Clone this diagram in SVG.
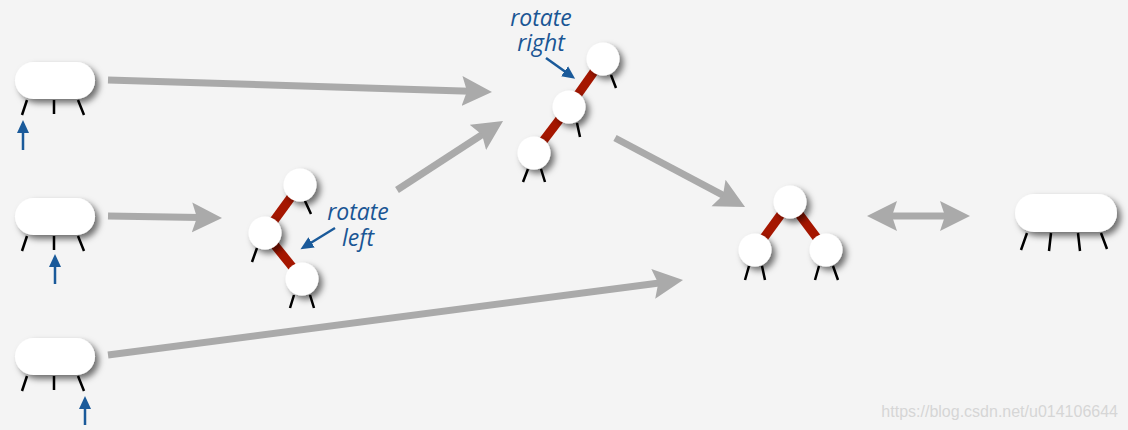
<svg xmlns="http://www.w3.org/2000/svg" width="1128" height="430" viewBox="0 0 1128 430">
<defs>
<filter id="sh" x="-50%" y="-50%" width="200%" height="200%">
<feDropShadow dx="4" dy="4" stdDeviation="3" flood-color="#000" flood-opacity="0.55"/>
</filter>
<marker id="gh" markerUnits="userSpaceOnUse" viewBox="0 -16 31 32" markerWidth="31" markerHeight="32" refX="8" refY="0" orient="auto-start-reverse">
<path d="M0,-15 L30,0 L0,15 L5,0 Z" fill="#aaaaaa"/>
</marker>
<marker id="bh" markerUnits="userSpaceOnUse" viewBox="0 -7 14 14" markerWidth="14" markerHeight="14" refX="3" refY="0" orient="auto">
<path d="M0,-6 L13,0 L0,6 Z" fill="#1a5a9a"/>
</marker>
<style>
.pill{fill:#fff;filter:url(#sh)}
.node{fill:#fff;filter:url(#sh)}
.leg{stroke:#000;stroke-width:2.5;fill:none}
.red{stroke:#a51600;stroke-width:9;stroke-linecap:butt}
.ga{stroke:#aaaaaa;stroke-width:7;fill:none;marker-end:url(#gh)}
.ba{stroke:#1a5a9a;stroke-width:2.5;fill:none;marker-end:url(#bh)}
.lbl{font-family:"Open Sans","Noto Sans",sans-serif;font-style:italic;font-size:23px;fill:#1a5694;text-anchor:middle}
.wm{font-family:"Liberation Sans",Arial,sans-serif;font-size:16px;fill:#d6d6d6;text-anchor:end}
</style>
</defs>
<rect width="1128" height="430" fill="#f4f4f4"/>

<g id="connectors">
<line class="ga" x1="108" y1="80" x2="470" y2="91.3"/>
<line class="ga" x1="108" y1="216" x2="200" y2="217.6"/>
<line class="ga" x1="108" y1="355" x2="661.2" y2="282.8"/>
<line class="ga" x1="397" y1="190" x2="484.6" y2="133"/>
<line class="ga" x1="615" y1="138" x2="725.6" y2="196.7"/>
<line class="ga" x1="889" y1="216" x2="948" y2="216" style="marker-start:url(#gh)"/>
<line class="ba" x1="23" y1="150" x2="23" y2="130"/>
<line class="ba" x1="55" y1="284" x2="55" y2="264"/>
<line class="ba" x1="85" y1="425" x2="85" y2="406"/>
<line class="ba" x1="335" y1="228" x2="309" y2="244"/>
<line class="ba" x1="546" y1="58" x2="567" y2="73"/>
</g>

<g id="node-a">
<rect class="pill" x="15" y="62" width="80" height="37" rx="18.5"/>
<path class="leg" d="M27,100 L22,115 M54,100 L54,114 M78,100 L84,115"/>
</g>
<g id="node-b">
<rect class="pill" x="15" y="198" width="80" height="37" rx="18.5"/>
<path class="leg" d="M27,236 L22,251 M54,236 L54,250 M78,236 L84,251"/>
</g>
<g id="node-c">
<rect class="pill" x="15" y="338" width="80" height="37" rx="18.5"/>
<path class="leg" d="M27,376 L22,391 M54,376 L54,390 M78,376 L84,391"/>
</g>

<g id="rotate-left">
<line class="red" x1="300" y1="185" x2="265" y2="233"/>
<line class="red" x1="265" y1="233" x2="302" y2="279"/>
<path class="leg" d="M305,201 L311,214 M257,248 L252,262 M294,295 L290,308 M310,295 L314,308"/>
<circle class="node" cx="300" cy="185" r="16.5"/>
<circle class="node" cx="265" cy="233" r="16.5"/>
<circle class="node" cx="302" cy="279" r="16.5"/>
<text class="lbl" x="358" y="220">rotate</text>
<text class="lbl" x="358" y="246">left</text>
</g>

<g id="rotate-right">
<line class="red" x1="603" y1="59" x2="569" y2="107"/>
<line class="red" x1="569" y1="107" x2="534" y2="153"/>
<path class="leg" d="M611,75 L616,88 M577,123 L580,137 M528,169 L523,182 M541,169 L545,182"/>
<circle class="node" cx="603" cy="59" r="16.5"/>
<circle class="node" cx="569" cy="107" r="16.5"/>
<circle class="node" cx="534" cy="153" r="16.5"/>
<text class="lbl" x="541" y="26">rotate</text>
<text class="lbl" x="541" y="51">right</text>
</g>

<g id="balanced">
<line class="red" x1="790" y1="202" x2="755" y2="250"/>
<line class="red" x1="790" y1="202" x2="826" y2="250"/>
<path class="leg" d="M749,266 L745,280 M762,266 L765,280 M819,266 L815,280 M833,266 L838,280"/>
<circle class="node" cx="790" cy="202" r="16.5"/>
<circle class="node" cx="755" cy="250" r="16.5"/>
<circle class="node" cx="826" cy="250" r="16.5"/>
</g>

<g id="node-4">
<rect class="pill" x="1015" y="194" width="102" height="38" rx="19"/>
<path class="leg" d="M1027,233 L1021,250 M1051,233 L1049,251 M1078,233 L1080,251 M1101,233 L1107,249"/>
</g>

<text class="wm" x="1118" y="417">https://blog.csdn.net/u014106644</text>
</svg>
